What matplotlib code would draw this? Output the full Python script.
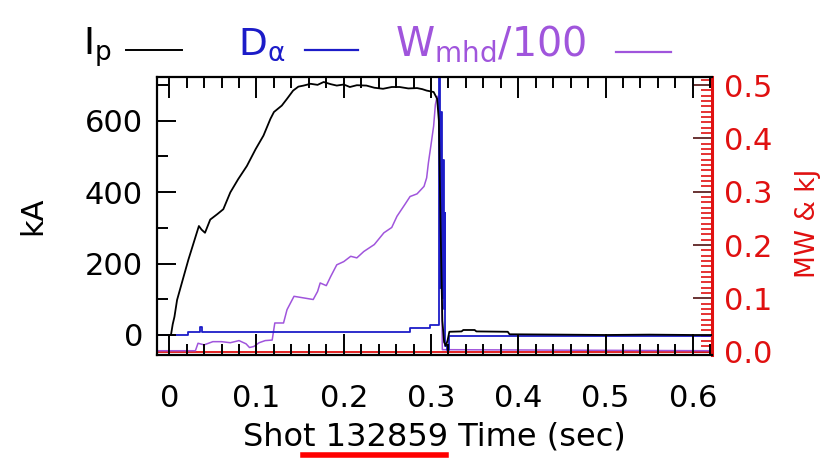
import matplotlib
matplotlib.use("Agg")
import matplotlib.pyplot as plt
from matplotlib.ticker import MultipleLocator, FuncFormatter
from matplotlib.lines import Line2D

# plasma current (kA), left axis
ip_t = [0.000, 0.002, 0.004, 0.006, 0.009, 0.016, 0.022, 0.028, 0.034, 0.037,
        0.041, 0.047, 0.055, 0.062, 0.070, 0.079, 0.089, 0.099, 0.108, 0.116,
        0.120, 0.129, 0.135, 0.142, 0.148, 0.154, 0.162, 0.170, 0.177, 0.185,
        0.192, 0.200, 0.207, 0.215, 0.226, 0.235, 0.245, 0.255, 0.264, 0.274,
        0.284, 0.290, 0.295, 0.303, 0.307, 0.309, 0.311, 0.313, 0.315, 0.317,
        0.319, 0.321, 0.335, 0.337, 0.350, 0.352, 0.388, 0.390, 0.450, 0.500,
        0.550, 0.600, 0.622]
ip_ka = [0, 0, 30, 51, 98, 159, 211, 258, 305, 295,
         286, 323, 338, 352, 399, 436, 473, 520, 558, 605,
         624, 642, 661, 684, 695, 698, 703, 700, 708, 702,
         698, 701, 694, 699, 698, 692, 689, 694, 694, 690,
         691, 688, 684, 680, 661, 600, 300, 40, -20, -30,
         -15, 9, 10, 14, 14, 10, 9, 2, 1, 0,
         1, 0, 0]

# D-alpha, right axis
da_t = [-0.014, 0.022, 0.035, 0.037, 0.276, 0.299, 0.3095, 0.3105, 0.3115,
        0.3125, 0.3135, 0.3145, 0.3155, 0.3165, 0.318, 0.321, 0.622]
da_v = [0.032, 0.038, 0.047, 0.038, 0.045, 0.051, 0.60, 0.12, 0.45,
        0.10, 0.36, 0.08, 0.26, 0.010, 0.004, 0.030, 0.030]

# W_mhd / 100, right axis
wm_t = [-0.014, 0.030, 0.033, 0.040, 0.050, 0.060, 0.070, 0.080, 0.088, 0.092,
        0.097, 0.103, 0.110, 0.118, 0.121, 0.131, 0.135, 0.143, 0.154, 0.165,
        0.170, 0.173, 0.180, 0.185, 0.192, 0.200, 0.208, 0.215, 0.223, 0.235,
        0.246, 0.255, 0.261, 0.270, 0.276, 0.284, 0.292, 0.295, 0.297, 0.300,
        0.303, 0.305, 0.307, 0.309, 0.311, 0.313, 0.622]
wm_v = [0.002, 0.002, 0.016, 0.013, 0.019, 0.019, 0.017, 0.021, 0.015, 0.008,
        0.010, 0.017, 0.021, 0.022, 0.054, 0.054, 0.079, 0.104, 0.101, 0.098,
        0.113, 0.129, 0.124, 0.141, 0.163, 0.169, 0.179, 0.176, 0.188, 0.201,
        0.223, 0.233, 0.254, 0.276, 0.291, 0.296, 0.310, 0.326, 0.354, 0.388,
        0.423, 0.463, 0.479, 0.473, 0.285, 0.004, 0.002]

# flat red trace (MW)
red_t = [-0.014, 0.622]
red_v = [0.0, 0.0]

shot = "132859"

BLUE = "#1c1cc8"
PURPLE = "#a055dc"
RED = "#e01010"

plt.rcParams["font.family"] = ["DejaVu Sans"]

fig = plt.figure(figsize=(8.27, 4.58), dpi=100)
ax = fig.add_axes([157 / 827, 1 - 355 / 458, 555 / 827, 278 / 458])
ax2 = ax.twinx()

ax2.plot(red_t, red_v, color=RED, lw=1.3)
ax2.plot(wm_t, wm_v, color=PURPLE, lw=1.1)
ax2.plot(da_t, da_v, color=BLUE, lw=1.3, drawstyle="steps-post", clip_on=True)
ax.plot(ip_t, ip_ka, color="black", lw=1.3)

ax.set_zorder(ax2.get_zorder() + 1)
ax.patch.set_visible(False)

ax.set_xlim(-0.014, 0.622)
ax.set_ylim(-56, 722)
ax2.set_ylim(-0.006, 0.515)

ax.xaxis.set_major_locator(MultipleLocator(0.1))
ax.xaxis.set_minor_locator(MultipleLocator(0.02))
ax.yaxis.set_major_locator(MultipleLocator(200))
ax.yaxis.set_minor_locator(MultipleLocator(100))
ax2.yaxis.set_major_locator(MultipleLocator(0.1))
ax2.yaxis.set_minor_locator(MultipleLocator(0.01))

ax.xaxis.set_major_formatter(FuncFormatter(lambda v, p: "0" if abs(v) < 1e-9 else "%.1f" % v))
ax.yaxis.set_major_formatter(FuncFormatter(lambda v, p: "%d" % round(v)))
ax2.yaxis.set_major_formatter(FuncFormatter(lambda v, p: "%.1f" % abs(v)))

ax.tick_params(axis="x", which="both", direction="in", top=True, bottom=True,
               labelsize=22, pad=21, width=1.4, color="black")
ax.tick_params(axis="x", which="major", length=15)
ax.tick_params(axis="x", which="minor", length=8)
ax.tick_params(axis="y", which="both", direction="in", left=True, right=False,
               labelsize=22, pad=10, width=1.4)
ax.tick_params(axis="y", which="major", length=14)
ax.tick_params(axis="y", which="minor", length=8)
ax2.tick_params(axis="y", which="both", direction="in", labelsize=22, pad=9,
                labelcolor=RED, width=1.2)
ax2.tick_params(axis="y", which="major", length=14, color="#501010")
ax2.tick_params(axis="y", which="minor", length=8, color=RED)

for s in ["left", "bottom", "top"]:
    ax.spines[s].set_linewidth(1.6)
ax.spines["right"].set_visible(False)
for s in ["left", "bottom", "top"]:
    ax2.spines[s].set_visible(False)
ax2.spines["right"].set_color(RED)
ax2.spines["right"].set_linewidth(2.2)

ax.set_xlabel("Shot " + shot + " Time (sec)", fontsize=23, labelpad=6)
ax.set_ylabel("kA", fontsize=22)
ax.yaxis.set_label_coords(-0.198, 0.5)
ax2.set_ylabel("MW & kJ", fontsize=19, color=RED, rotation=90)
ax2.yaxis.set_label_coords(1.150, 0.475)

# header legend
def fx(px):
    return px / 827

def fy(py):
    return 1 - py / 458

fig.text(fx(83), fy(55), r"$\mathrm{I_p}$", fontsize=27, color="black", va="baseline")
fig.add_artist(Line2D([fx(126), fx(182)], [fy(50), fy(50)], color="black", lw=1.4))
fig.text(fx(238), fy(55), r"$\mathrm{D_\alpha}$", fontsize=27, color=BLUE, va="baseline")
fig.add_artist(Line2D([fx(305), fx(358)], [fy(50), fy(50)], color=BLUE, lw=1.6))
fig.text(fx(395), fy(55), r"$\mathrm{W_{mhd}/100}$", fontsize=28.5, color=PURPLE, va="baseline")
fig.add_artist(Line2D([fx(616), fx(671)], [fy(52), fy(52)], color=PURPLE, lw=1.6))

# red underline under the shot number
fig.add_artist(Line2D([fx(303), fx(446)], [fy(455), fy(455)], color="#ff0000", lw=4))

fig.savefig("out.png", dpi=100)
